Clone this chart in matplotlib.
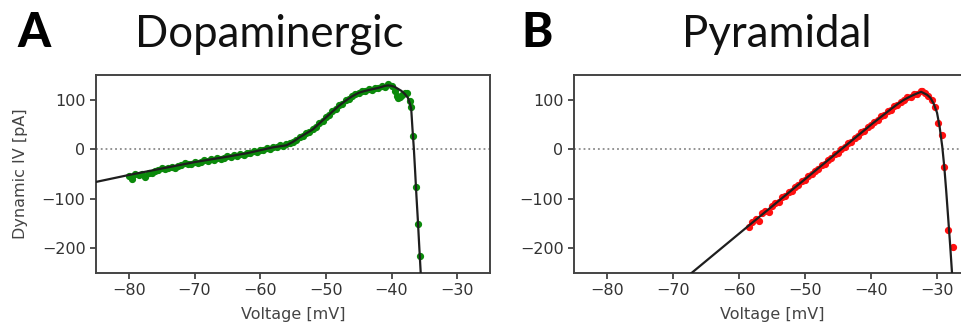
import matplotlib
matplotlib.use("Agg")
import matplotlib.pyplot as plt

# ---------------- Dopaminergic neuron ----------------
# measured dynamic I-V samples (mV, pA)
da_voltage = [
    -80.0, -79.5, -79.0, -78.5, -78.0, -77.5, -77.0, -76.5, -76.0, -75.5,
    -75.0, -74.5, -74.0, -73.5, -73.0, -72.5, -72.0, -71.5, -71.0, -70.5,
    -70.0, -69.5, -69.0, -68.5, -68.0, -67.5, -67.0, -66.5, -66.0, -65.5,
    -65.0, -64.5, -64.0, -63.5, -63.0, -62.5, -62.0, -61.5, -61.0, -60.5,
    -60.0, -59.5, -59.0, -58.5, -58.0, -57.5, -57.0, -56.5, -56.0, -55.5,
    -55.0, -54.5, -54.0, -53.5, -53.0, -52.5, -52.0, -51.5, -51.0, -50.5,
    -50.0, -49.5, -49.0, -48.5, -48.0, -47.5, -47.0, -46.5, -46.0, -45.5,
    -45.0, -44.5, -44.0, -43.5, -43.0, -42.5, -42.0, -41.5, -41.0, -40.5,
    -40.0, -39.5, -39.2, -39.0, -38.7, -38.4, -38.0, -37.6, -37.2, -37.0,
    -36.8, -36.3, -36.0, -35.7,
]
da_current = [
    -55, -60, -51, -53, -49, -56, -47, -48, -44, -41,
    -37, -40, -38, -36, -37, -33, -32, -27, -30, -29,
    -25, -28, -25, -22, -24, -20, -22, -18, -19, -17,
    -14, -16, -12, -13, -9, -11, -7, -8, -4, -5,
    -1, -2, 2, 1, 5, 4, 8, 6, 10, 12,
    14, 19, 25, 27, 33, 35, 41, 45, 53, 57,
    65, 69, 77, 81, 89, 92, 99, 102, 108, 112,
    113, 117, 117, 121, 120, 124, 123, 127, 126, 132,
    128, 118, 108, 104, 106, 110, 113, 114, 98, 86,
    27, -77, -150, -215,
]
# fitted dynamic I-V curve
da_fit_voltage = [
    -85, -80, -75, -70, -65, -62, -60, -58, -56, -55,
    -54, -53, -52, -51, -50, -49, -48, -47, -46, -45,
    -44, -43, -42, -41, -40.5, -40, -39.5, -39, -38.5, -38,
    -37.5, -37.2, -37, -36.8, -36.6, -36.4, -36.2, -36, -35.8, -35.5,
]
da_fit_current = [
    -66, -52, -39, -26, -15, -8, -2, 4, 8, 15,
    24, 32, 40, 52, 64, 76, 88, 98, 107, 114,
    118, 121, 124, 128, 129, 128, 126, 122, 118, 112,
    104, 92, 82, 40, 2, -45, -95, -140, -190, -262,
]

# ---------------- Pyramidal neuron ----------------
pyr_voltage = [
    -58.5, -58.0, -57.5, -57.0, -56.5, -56.0, -55.5, -55.0, -54.5, -54.0,
    -53.5, -53.0, -52.5, -52.0, -51.5, -51.0, -50.5, -50.0, -49.5, -49.0,
    -48.5, -48.0, -47.5, -47.0, -46.5, -46.0, -45.5, -45.0, -44.5, -44.0,
    -43.5, -43.0, -42.5, -42.0, -41.5, -41.0, -40.5, -40.0, -39.5, -39.0,
    -38.5, -38.0, -37.5, -37.0, -36.5, -36.0, -35.5, -35.0, -34.5, -34.0,
    -33.5, -33.0, -32.5, -32.2, -31.8, -31.3, -30.8, -30.3, -29.8, -29.3,
    -29.0, -28.3, -27.6,
]
pyr_current = [
    -157, -146, -141, -145, -128, -124, -126, -114, -109, -106,
    -97, -95, -87, -84, -76, -73, -65, -62, -54, -51,
    -43, -40, -32, -29, -21, -18, -10, -7, 1, 4,
    12, 15, 23, 26, 34, 37, 45, 48, 56, 59,
    67, 70, 77, 80, 87, 90, 96, 99, 105, 106,
    111, 112, 117, 118, 113, 108, 100, 86, 53, 29,
    -35, -163, -197,
]
pyr_fit_voltage = [
    -70, -58, -50, -40, -37, -36, -35, -34, -33, -32.4,
    -31.5, -31, -30.5, -30, -29.6, -29.2, -28.9, -28.6, -28.3, -28.0,
    -27.7,
]
pyr_fit_current = [
    -281, -148.5, -60.5, 49.5, 81, 91, 100, 107, 113, 116,
    110, 104, 92, 74, 45, 5, -35, -85, -140, -195,
    -255,
]

x_ticks = [-80, -70, -60, -50, -40, -30]
y_ticks = [-200, -100, 0, 100]

W, H = 961, 327
fig = plt.figure(figsize=(W / 100, H / 100), dpi=100)
ax_a = fig.add_axes([96 / W, 54 / H, 394 / W, 198 / H])
ax_b = fig.add_axes([574 / W, 54 / H, 396 / W, 198 / H])

panels = [
    (ax_a, da_voltage, da_current, da_fit_voltage, da_fit_current, "#0b8a0b"),
    (ax_b, pyr_voltage, pyr_current, pyr_fit_voltage, pyr_fit_current, "#ff1010"),
]

for ax, v, i, fv, fi, col in panels:
    ax.axhline(0, color="#8a8a8a", ls=":", lw=1.3, zorder=1)
    ax.plot(v, i, "o", color=col, ms=4.2, mec=col, zorder=2)
    ax.plot(fv, fi, color="#1e1e1e", lw=1.6, zorder=3)
    ax.set_xlim(-85, -25)
    ax.set_ylim(-250, 150)
    ax.set_xticks(x_ticks)
    ax.set_yticks(y_ticks)
    ax.tick_params(labelsize=11.5, colors="#333333", length=4, width=1.2)
    for s in ax.spines.values():
        s.set_color("#444444")
        s.set_linewidth(1.4)
    ax.set_xlabel("Voltage [mV]", fontsize=11.5, color="#444444")
    ax.xaxis.set_label_coords(0.5, -0.172)

ax_a.set_ylabel("Dynamic IV [pA]", fontsize=11.5, color="#444444")
ax_a.yaxis.set_label_coords(-0.1726, 0.5)

title_kw = dict(va="baseline", fontsize=31.5, family="Lato", color="#111111")
fig.text(269 / W, 1 - 47 / H, "Dopaminergic", ha="center", **title_kw)
fig.text(777 / W, 1 - 47 / H, "Pyramidal", ha="center", **title_kw)

letter_kw = dict(va="baseline", ha="left", fontsize=34, family="Lato",
                 fontweight="black", color="#000000")
fig.text(17 / W, 1 - 47 / H, "A", **letter_kw)
fig.text(521 / W, 1 - 47 / H, "B", **letter_kw)

fig.savefig("out.png", dpi=100)
